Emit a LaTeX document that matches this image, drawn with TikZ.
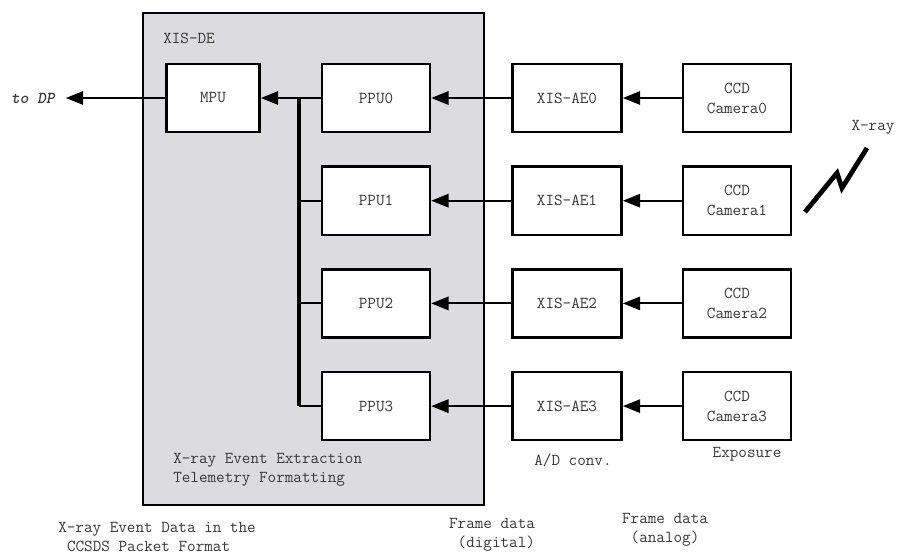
\documentclass[tikz,border=0pt]{standalone}
\usetikzlibrary{arrows.meta, positioning}
\definecolor{degray}{RGB}{220,220,224}
\definecolor{txtgray}{RGB}{55,55,55}

\begin{document}
\begin{tikzpicture}[x=0.75pt, y=-0.75pt,
  box/.style={draw, line width=1.8pt, fill=white, minimum height=51pt,
    text=txtgray, align=center, font=\ttfamily\fontsize{12.5}{15}\selectfont},
  link/.style={line width=1.6pt},
  arr/.style={link, -{Triangle[length=13pt,width=10pt]}},
  lbl/.style={text=txtgray, inner sep=0pt, font=\ttfamily\fontsize{12.5}{14}\selectfont}]
\useasboundingbox (0,0) rectangle (899,556);

% XIS-DE frame
\draw[line width=1.8pt, fill=degray] (143,13) rectangle (484,505);
\node[lbl, anchor=west] (de) at (163,38) {XIS-DE};
\node[lbl, anchor=west, align=left] (ext) at (173,470)
  {X-ray Event Extraction\\Telemetry Formatting};

% Boxes, one row per camera
\node[box, minimum width=70pt] (MPU) at (213,98) {MPU};
\foreach \i in {0,...,3} {
  \pgfmathsetmacro{\y}{98+102.7*\i}
  \node[box, minimum width=81pt] (PPU\i) at (376,\y) {PPU\i};
  \node[box, minimum width=82pt] (AE\i) at (567,\y) {XIS-AE\i};
  \node[box, minimum width=81pt] (CCD\i) at (737,\y) {CCD\\Camera\i};
  \draw[arr] (CCD\i) -- (AE\i);
  \draw[arr] (AE\i) -- (PPU\i);
}

% PPU bus to MPU
\draw[arr] (PPU0) -- (MPU);
\coordinate (bus) at (299,0);
\draw[line width=2.4pt] (bus |- PPU0.west) -- (bus |- PPU3.west);
\foreach \i in {1,2,3}
  \draw[link] (bus |- PPU\i.west) -- (PPU\i.west);

% Output
\node[lbl, font=\ttfamily\fontsize{12.5}{14}\selectfont\itshape\bfseries] (DP) at (33,98) {to DP};
\draw[arr, shorten >=8pt] (MPU) -- (DP);

% X-ray
\node[lbl] (xray) at (873,127) {X-ray};
\draw[line width=3.6pt] (805,212) -- (837,173) -- (842,188) -- (867,148);

% Stage labels
\node[lbl] (adc) at (573,460) {A/D conv.};
\node[lbl] (exp) at (747,454) {Exposure};
\node[lbl, align=left] (ccsds) at (157,537)
  {X-ray Event Data in the\\\hspace*{0.525em}CCSDS Packet Format};
\node[lbl, align=right] (fdig) at (492,535) {Frame data\\(digital)};
\node[lbl, align=center] (fana) at (665,530) {Frame data\\(analog)};
\end{tikzpicture}
\end{document}
